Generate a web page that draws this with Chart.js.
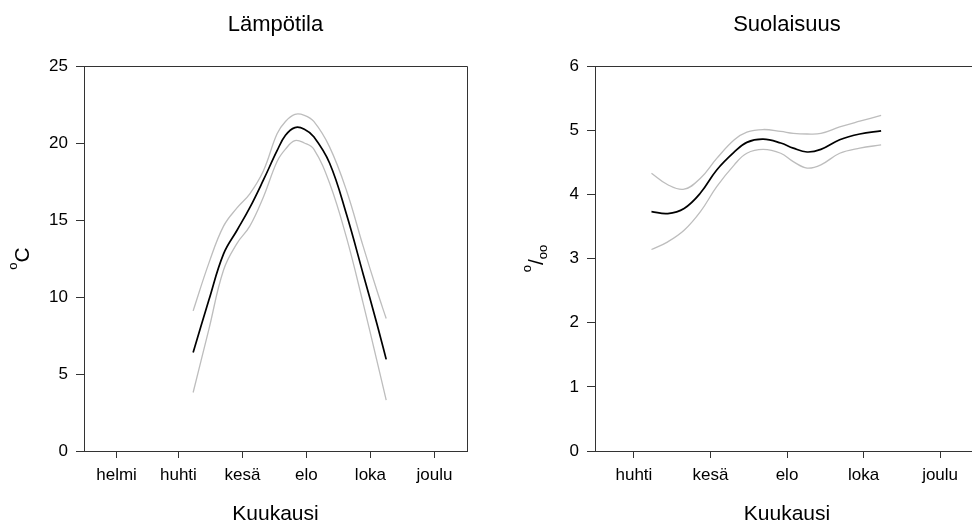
<!DOCTYPE html>
<html>
<head>
<meta charset="utf-8">
<script src="https://cdn.jsdelivr.net/npm/chart.js@4"></script>
<style>
    html, body { margin: 0; padding: 0; background: #fff; overflow: hidden; }
    #wrap { position: relative; width: 972px; height: 527px; overflow: hidden; }
    #tempBox { position: absolute; left: 0; top: 0; }
    #saltBox { position: absolute; left: 486px; top: 0; }
</style>
</head>
<body>
<div id="wrap">
    <div id="tempBox"><canvas id="tempChart" width="486" height="527"></canvas></div>
    <div id="saltBox"><canvas id="saltChart" width="513" height="527"></canvas></div>
</div>
<script>
// Day of year for each point (x)
const tempDays = [105, 120, 134, 147, 159, 172, 185, 193, 202, 211, 220, 235, 251, 267, 280, 289];
const tempMean = [6.4, 9.8, 12.8, 14.35, 15.8, 17.6, 19.5, 20.5, 21.0, 20.9, 20.4, 18.7, 15.4, 11.5, 8.3, 5.95];
const tempUpper = [9.1, 12.2, 14.6, 15.8, 16.7, 18.2, 20.6, 21.4, 21.86, 21.8, 21.4, 19.75, 16.95, 13.3, 10.45, 8.6];
const tempLower = [3.8, 7.9, 11.75, 13.5, 14.6, 16.5, 18.8, 19.6, 20.15, 20.0, 19.6, 17.4, 13.9, 9.6, 5.9, 3.3];

const saltDays = [105, 118, 131, 144, 157, 171, 181, 194, 208, 218, 229, 240, 255, 271, 288];
const saltMean = [3.73, 3.70, 3.78, 4.02, 4.38, 4.66, 4.81, 4.86, 4.80, 4.72, 4.66, 4.70, 4.85, 4.94, 4.99];
const saltUpper = [4.33, 4.15, 4.08, 4.25, 4.56, 4.85, 4.97, 5.01, 4.98, 4.95, 4.94, 4.95, 5.05, 5.14, 5.23];
const saltLower = [3.14, 3.26, 3.44, 3.73, 4.12, 4.46, 4.64, 4.70, 4.64, 4.51, 4.41, 4.46, 4.64, 4.72, 4.77];

// Month tick labels (first day of month)
const tempTickDays = [32, 91, 152, 213, 274, 335];
const tempTickLabels = ['helmi', 'huhti', 'kesä', 'elo', 'loka', 'joulu'];
const saltTickDays = [91, 152, 213, 274, 335];
const saltTickLabels = ['huhti', 'kesä', 'elo', 'loka', 'joulu'];

const FONT = '"Liberation Sans", Arial, sans-serif';
const AXIS = '#333';

function pts(days, vals) {
    return days.map((d, i) => ({ x: d, y: vals[i] }));
}

function lineSet(data, color, width) {
    return {
        data: data,
        borderColor: color,
        borderWidth: width,
        pointRadius: 0,
        fill: false,
        tension: 0.4
    };
}

// Draws titles, frame and the y title with super/subscripts
const decor = {
    id: 'decor',
    afterDraw(chart, args, opts) {
        const ctx = chart.ctx;
        const a = chart.chartArea;
        const cx = (a.left + a.right) / 2;
        ctx.save();

        // frame top and right
        ctx.strokeStyle = AXIS;
        ctx.lineWidth = 1;
        ctx.beginPath();
        ctx.moveTo(a.left, a.top + 0.5);
        ctx.lineTo(a.right + 0.5, a.top + 0.5);
        ctx.lineTo(a.right + 0.5, a.bottom);
        ctx.stroke();

        ctx.fillStyle = '#000';
        ctx.textAlign = 'center';
        ctx.textBaseline = 'alphabetic';
        ctx.font = '22px ' + FONT;
        ctx.fillText(opts.title, cx, 31);
        ctx.font = '21px ' + FONT;
        ctx.fillText('Kuukausi', cx, 520);

        // y title, rotated
        const cy = (a.top + a.bottom) / 2;
        ctx.translate(opts.yx, cy);
        ctx.rotate(-Math.PI / 2);
        ctx.textAlign = 'left';
        let total = 0;
        opts.yParts.forEach(p => {
            ctx.font = p[1] + 'px ' + FONT;
            total += ctx.measureText(p[0]).width;
        });
        let x = -total / 2;
        opts.yParts.forEach(p => {
            ctx.font = p[1] + 'px ' + FONT;
            ctx.fillText(p[0], x, p[2]);
            x += ctx.measureText(p[0]).width;
        });
        ctx.restore();
    }
};

function makeChart(id, sets, xMin, tickDays, tickLabels, yMax, yStep, yWidth, padRight, title, yParts, yx) {
    return new Chart(document.getElementById(id), {
        type: 'line',
        data: { datasets: sets },
        plugins: [decor],
        options: {
            responsive: false,
            animation: false,
            layout: { padding: { top: 66, right: padRight, left: 0, bottom: 0 } },
            plugins: {
                legend: { display: false },
                tooltip: { enabled: false },
                decor: { title: title, yParts: yParts, yx: yx }
            },
            scales: {
                x: {
                    type: 'linear',
                    min: xMin,
                    max: 366,
                    afterBuildTicks: (scale) => {
                        scale.ticks = tickDays.map(v => ({ value: v }));
                    },
                    afterFit: (scale) => { scale.height = 76; },
                    ticks: {
                        autoSkip: false,
                        maxRotation: 0,
                        padding: 7,
                        color: '#000',
                        font: { family: FONT, size: 17 },
                        callback: (v) => tickLabels[tickDays.indexOf(v)]
                    },
                    grid: { drawOnChartArea: false, tickLength: 7, color: AXIS },
                    border: { color: AXIS }
                },
                y: {
                    min: 0,
                    max: yMax,
                    afterFit: (scale) => { scale.width = yWidth; },
                    ticks: {
                        stepSize: yStep,
                        padding: 8,
                        color: '#000',
                        font: { family: FONT, size: 17 }
                    },
                    grid: { drawOnChartArea: false, tickLength: 8, color: AXIS },
                    border: { color: AXIS }
                }
            }
        }
    });
}

const grey = '#bdbdbd';

makeChart('tempChart', [
    lineSet(pts(tempDays, tempUpper), grey, 1.3),
    lineSet(pts(tempDays, tempLower), grey, 1.3),
    lineSet(pts(tempDays, tempMean), '#000', 1.7)
], 1, tempTickDays, tempTickLabels, 25, 5, 84, 19, 'Lämpötila',
    [['o', 13, -12], ['C', 21, 0]], 29);

makeChart('saltChart', [
    lineSet(pts(saltDays, saltUpper), grey, 1.3),
    lineSet(pts(saltDays, saltLower), grey, 1.3),
    lineSet(pts(saltDays, saltMean), '#000', 1.7)
], 60, saltTickDays, saltTickLabels, 6, 1, 109, 20, 'Suolaisuus',
    [['o', 13, -12], ['/', 21, 0], ['oo', 13, 4]], 57);
</script>
</body>
</html>
